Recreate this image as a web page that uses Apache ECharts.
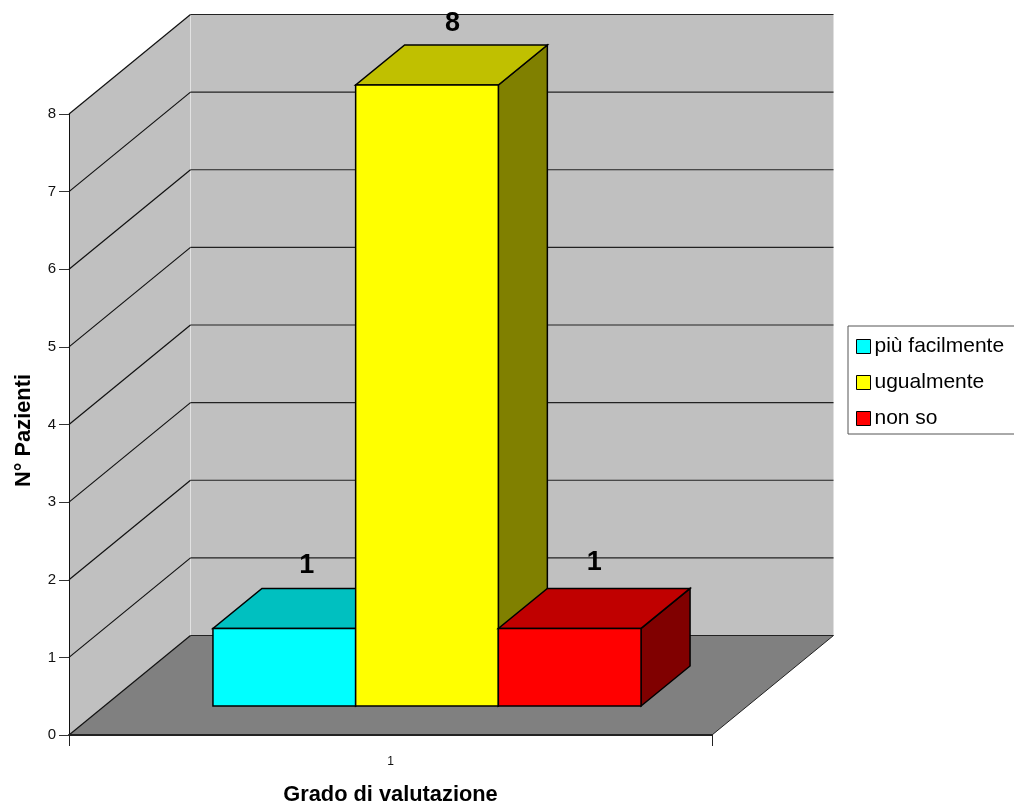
<!DOCTYPE html>
<html>
<head>
<meta charset="utf-8">
<style>html,body{margin:0;padding:0;background:#fff;overflow:hidden}#chart{width:1014px;height:807px}</style>
<script src="https://cdn.jsdelivr.net/npm/echarts@6/dist/echarts.min.js"></script>
</head>
<body>
<div id="chart"></div>
<script>
// Chart content
const categories = ['1'];
const seriesNames = ['più facilmente', 'ugualmente', 'non so'];
const seriesValues = [1, 8, 1];
const yTicks = [0, 1, 2, 3, 4, 5, 6, 7, 8];

// Box shades per series: front, top, side
const boxColors = [
  ['#00ffff', '#00c0c0', '#008080'],
  ['#ffff00', '#c0c000', '#808000'],
  ['#ff0000', '#c00000', '#800000']
];

// Pseudo-3D projection, in pixels
const WALL_DX = 121.5, WALL_DY = -99.5;
const BOX_FRONT = [36.5, -29], BOX_BACK = [85.5, -69];
const BOX_WIDTH = 142.7;
const LABEL_LIFT = [22.5, 21, 26];
const LABEL_NUDGE = [-2, 1, 0];
const FONT = '"Liberation Sans", Arial, sans-serif';
const EDGE = '#000';

function poly(points, fill, stroke, lineWidth) {
  return {
    type: 'polygon',
    shape: { points },
    style: { fill, stroke: stroke || null, lineWidth: lineWidth === undefined ? 1 : lineWidth }
  };
}
function seg(a, b, stroke, lineWidth) {
  return {
    type: 'line',
    shape: { x1: a[0], y1: a[1], x2: b[0], y2: b[1] },
    style: { stroke, lineWidth: lineWidth || 1 }
  };
}

// Left wall, back wall and floor of the plot box
function renderWalls(params, api) {
  const bottom = api.coord([0, 0]);
  const top = api.coord([0, yTicks[yTicks.length - 1]]);
  const w = api.size([1, 0])[0];
  const x0 = bottom[0] - w / 2, x1 = bottom[0] + w / 2;
  const y0 = bottom[1], yT = top[1];
  const bx0 = x0 + WALL_DX, bx1 = x1 + WALL_DX;
  const by0 = y0 + WALL_DY, byT = yT + WALL_DY;
  return {
    type: 'group',
    children: [
      poly([[x0, y0], [x0, yT], [bx0, byT], [bx0, by0]], '#c0c0c0'),
      poly([[bx0, by0], [bx0, byT], [bx1, byT], [bx1, by0]], '#c0c0c0'),
      seg([bx0, by0], [bx0, byT], '#e2e2e2'),
      poly([[x0, y0], [bx0, by0], [bx1, by0], [x1, y0]], '#808080'),
      seg([bx1, by0], [x1, y0], '#222')
    ]
  };
}

// One gridline per tick: along the left wall, then across the back wall
function renderGridline(params, api) {
  const p = api.coord([0, api.value(1)]);
  const w = api.size([1, 0])[0];
  const x0 = p[0] - w / 2, x1 = p[0] + w / 2;
  const b0 = [x0 + WALL_DX, p[1] + WALL_DY];
  const b1 = [x1 + WALL_DX, p[1] + WALL_DY];
  return {
    type: 'group',
    children: [seg([x0, p[1]], b0, '#111', 1.2), seg(b0, b1, '#222', 1.2)]
  };
}

// A box standing on the floor, with its value label above the top face
function boxRenderer(index) {
  return function (params, api) {
    const center = api.coord([0, 0]);
    const top = api.coord([0, api.value(1)]);
    const shift = (index - 1) * BOX_WIDTH;
    const l = center[0] + shift - BOX_WIDTH / 2 + BOX_FRONT[0];
    const r = l + BOX_WIDTH;
    const yB = center[1] + BOX_FRONT[1];
    const yT = top[1] + BOX_FRONT[1];
    const dx = BOX_BACK[0] - BOX_FRONT[0];
    const dy = BOX_BACK[1] - BOX_FRONT[1];
    const c = boxColors[index];
    return {
      type: 'group',
      children: [
        poly([[r, yB], [r, yT], [r + dx, yT + dy], [r + dx, yB + dy]], c[2], EDGE, 1.5),
        poly([[l, yT], [r, yT], [r + dx, yT + dy], [l + dx, yT + dy]], c[1], EDGE, 1.5),
        poly([[l, yB], [l, yT], [r, yT], [r, yB]], c[0], EDGE, 1.5),
        {
          type: 'text',
          style: {
            x: (l + r + dx) / 2 + LABEL_NUDGE[index],
            y: yT + dy - LABEL_LIFT[index],
            text: String(api.value(1)),
            fill: '#000',
            font: 'bold 27px ' + FONT,
            align: 'center',
            verticalAlign: 'middle'
          }
        }
      ]
    };
  };
}

const option = {
  animation: false,
  backgroundColor: '#fff',
  textStyle: { fontFamily: FONT },
  grid: { left: 69, right: 302, top: 114, bottom: 72, outerBoundsMode: 'none' },
  xAxis: {
    type: 'category',
    z: 10,
    data: categories,
    name: 'Grado di valutazione',
    nameLocation: 'middle',
    nameGap: 60,
    nameTextStyle: { fontFamily: FONT, fontWeight: 'bold', fontSize: 21.8, color: '#000', verticalAlign: 'middle' },
    axisLine: { lineStyle: { color: '#222', width: 2 } },
    axisTick: { show: true, length: 11, lineStyle: { color: '#222' } },
    axisLabel: { color: '#111', fontSize: 12, margin: 21, fontFamily: FONT },
    splitLine: { show: false }
  },
  yAxis: {
    type: 'value',
    z: 10,
    min: 0,
    max: 8,
    interval: 1,
    name: 'N° Pazienti',
    nameLocation: 'middle',
    nameGap: 45,
    nameTextStyle: { fontFamily: FONT, fontWeight: 'bold', fontSize: 21.8, color: '#000', verticalAlign: 'middle', padding: [0, 12, 0, 0] },
    axisLine: { show: true, onZero: false, lineStyle: { color: '#111' } },
    axisTick: { show: true, length: 10, lineStyle: { color: '#333' } },
    axisLabel: { color: '#111', fontSize: 15, margin: 13, fontFamily: FONT },
    splitLine: { show: false }
  },
  legend: {
    orient: 'vertical',
    left: 848,
    top: 326,
    data: seriesNames,
    icon: 'rect',
    itemWidth: 14,
    itemHeight: 14,
    itemGap: 15,
    padding: [10, 20, 5, 8],
    selectedMode: false,
    backgroundColor: '#fff',
    borderColor: '#555',
    borderWidth: 1,
    borderRadius: 0,
    itemStyle: { borderColor: '#000', borderWidth: 1 },
    textStyle: { color: '#000', fontSize: 21, fontFamily: FONT, padding: [0, 0, 0, -1] }
  },
  series: [
    { type: 'custom', silent: true, z: 1, renderItem: renderWalls, data: [[0, 0]], encode: { x: 0, y: 1 }, tooltip: { show: false } },
    { type: 'custom', silent: true, z: 2, renderItem: renderGridline, data: yTicks.map(t => [0, t]), encode: { x: 0, y: 1 } }
  ].concat(seriesNames.map((name, i) => ({
    type: 'custom',
    name,
    silent: true,
    z: 3 + i,
    itemStyle: { color: boxColors[i][0] },
    renderItem: boxRenderer(i),
    encode: { x: 0, y: 1 },
    data: [[0, seriesValues[i]]]
  })))
};

echarts.init(document.getElementById('chart'), null, { renderer: 'canvas' }).setOption(option);
</script>
</body>
</html>
